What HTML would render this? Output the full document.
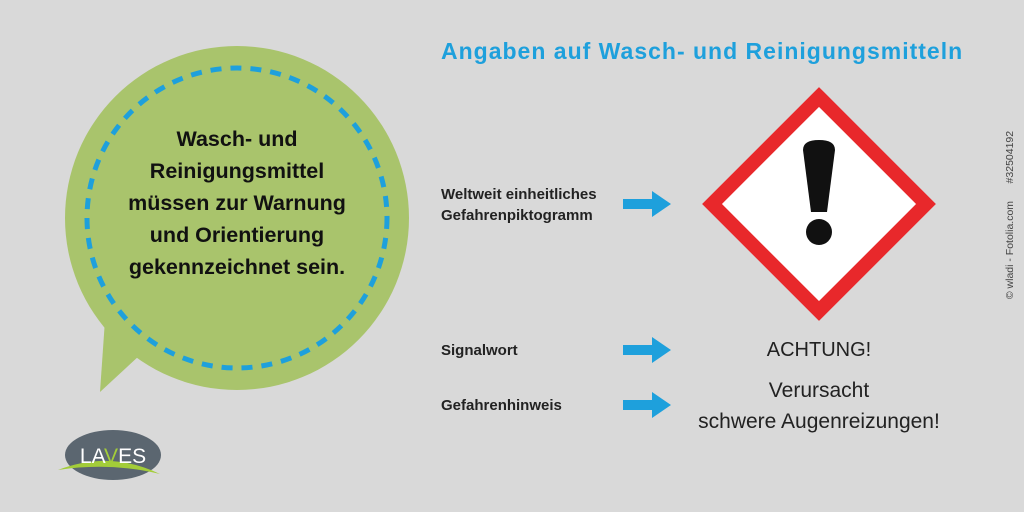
<!DOCTYPE html>
<html><head><style>
body{margin:0;width:1024px;height:512px;background:#d9d9d9;position:relative;overflow:hidden;font-family:"Liberation Sans",sans-serif}
.t{position:absolute;white-space:nowrap}
</style></head><body>
<svg width="1024" height="512" style="position:absolute;left:0;top:0">
<path d="M105 320 L100 392 L140 355 Z" fill="#a9c46c"/>
<circle cx="237" cy="218" r="172" fill="#a9c46c"/>
<circle cx="237" cy="218" r="150" fill="none" stroke="#1ea0dc" stroke-width="5" stroke-dasharray="11 9"/>
<polygon points="819,97 926,204 819,311 712,204" fill="#fff" stroke="#e8282b" stroke-width="14" stroke-linejoin="miter"/>
<path d="M803 150 Q803 140 819 140 Q835 140 835 150 L827 212 L811 212 Z" fill="#111"/>
<circle cx="819" cy="232" r="13" fill="#111"/>
<g fill="#1ea0dc">
<path d="M623 199 H652 V191 L671 204 L652 217 V209 H623 Z"/>
<path d="M623 345 H652 V337 L671 350 L652 363 V355 H623 Z"/>
<path d="M623 400 H652 V392 L671 405 L652 418 V410 H623 Z"/>
</g>
<ellipse cx="113" cy="455" rx="48" ry="25" fill="#5b6670"/>
<path d="M58 470 Q110 450 160 474 Q110 462 58 470Z" fill="#a3cd39"/>
<text x="113" y="463" text-anchor="middle" font-size="21" fill="#fff" font-family="Liberation Sans">LA<tspan fill="#a3cd39">V</tspan>ES</text>
</svg>
<div class="t" style="left:441px;top:38px;font-size:23px;letter-spacing:1px;font-weight:bold;color:#1ea0dc">Angaben auf Wasch- und Reinigungsmitteln</div>
<div class="t" style="left:87px;top:123px;width:300px;text-align:center;font-size:21.5px;font-weight:bold;line-height:32px;color:#111">Wasch- und<br>Reinigungsmittel<br>müssen zur Warnung<br>und Orientierung<br>gekennzeichnet sein.</div>
<div class="t" style="left:441px;top:184px;font-size:15px;font-weight:bold;line-height:21px;color:#222">Weltweit einheitliches<br>Gefahrenpiktogramm</div>
<div class="t" style="left:441px;top:342px;font-size:15px;font-weight:bold;color:#222">Signalwort</div>
<div class="t" style="left:441px;top:397px;font-size:15px;font-weight:bold;color:#222">Gefahrenhinweis</div>
<div class="t" style="left:719px;top:339px;width:200px;text-align:center;font-size:20px;color:#222">ACHTUNG!</div>
<div class="t" style="left:669px;top:375px;width:300px;text-align:center;font-size:21px;line-height:31px;color:#222">Verursacht<br>schwere Augenreizungen!</div>
<div class="t" style="left:1010px;top:215px;transform:translate(-50%,-50%) rotate(-90deg);font-size:10.5px;color:#444">© wladi - Fotolia.com &nbsp;&nbsp;&nbsp;&nbsp;&nbsp;#32504192</div>
</body></html>
